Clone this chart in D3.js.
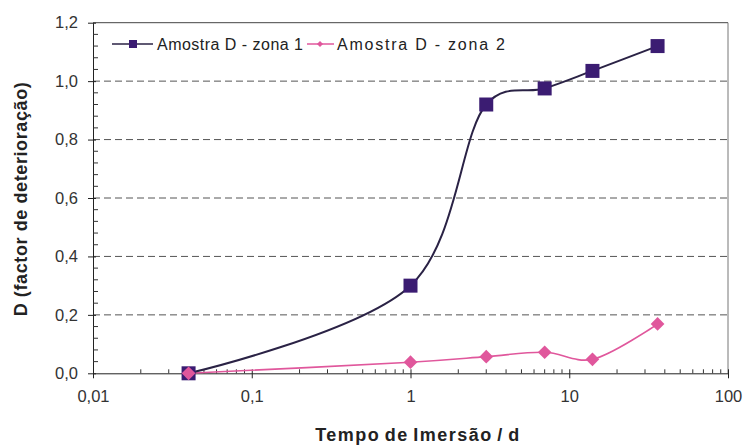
<!DOCTYPE html>
<html><head><meta charset="utf-8">
<script src="https://cdn.jsdelivr.net/npm/d3@7"></script>
<style>
html,body{margin:0;padding:0;background:#fff;}
text{font-family:"Liberation Sans",Arial,sans-serif;}
</style></head>
<body><svg id="c" width="746" height="447"></svg>
<script>
// ---- data ----
const times = [0.04, 1, 3, 7, 14, 36];
const zona1 = [0.00, 0.30, 0.92, 0.975, 1.035, 1.12];
const zona2 = [0.00, 0.038, 0.057, 0.072, 0.048, 0.169];
const seriesNames = ["Amostra D - zona 1", "Amostra D - zona 2"];
const xTicks = [0.01, 0.1, 1, 10, 100];
const xTickLabels = ["0,01", "0,1", "1", "10", "100"];
const yTicks = [0, 0.2, 0.4, 0.6, 0.8, 1.0, 1.2];
const yTickLabels = ["0,0", "0,2", "0,4", "0,6", "0,8", "1,0", "1,2"];

const svg = d3.select("#c");
const L = 93, R = 728, T = 22.7, B = 373.3;
const x = d3.scaleLog().domain([0.01, 100]).range([L, R]);
const y = d3.scaleLinear().domain([0, 1.2]).range([B, T]);

// gridlines
svg.append("g").selectAll("line").data(yTicks.filter(v => v > 0 && v < 1.2)).join("line")
  .attr("x1", L).attr("x2", R).attr("y1", d => y(d)).attr("y2", d => y(d))
  .attr("stroke", "#555").attr("stroke-width", 1).attr("stroke-dasharray", "7,4");

// frame top / right
svg.append("line").attr("x1", L).attr("x2", R).attr("y1", y(1.2)).attr("y2", y(1.2))
  .attr("stroke", "#444").attr("stroke-width", 1);
svg.append("line").attr("x1", R).attr("x2", R).attr("y1", y(1.2)).attr("y2", y(0))
  .attr("stroke", "#777").attr("stroke-width", 1);

// y axis
const yAxis = d3.axisLeft(y).tickValues(yTicks).tickFormat((d, i) => yTickLabels[i])
  .tickSizeInner(5).tickSizeOuter(0).tickPadding(10);
const gy = svg.append("g").attr("transform", `translate(${L},0)`).call(yAxis);
gy.select(".domain").attr("stroke", "#222");
gy.selectAll(".tick line").attr("stroke", "#222").attr("x2", 3).attr("x1", -5);
gy.selectAll(".tick text").attr("font-size", 16.5).attr("fill", "#333");
// y minor ticks
const yMinor = d3.range(0, 1.2001, 0.04).filter(v => Math.abs(v / 0.2 - Math.round(v / 0.2)) > 1e-6);
svg.append("g").selectAll("line").data(yMinor).join("line")
  .attr("x1", L).attr("x2", L + 5).attr("y1", d => y(d)).attr("y2", d => y(d))
  .attr("stroke", "#333").attr("stroke-width", 1);

// x axis
const xAxis = d3.axisBottom(x).tickValues(xTicks).tickFormat((d, i) => xTickLabels[i])
  .tickSizeInner(5).tickSizeOuter(0).tickPadding(12);
const gx = svg.append("g").attr("transform", `translate(0,${B})`).call(xAxis);
gx.select(".domain").attr("stroke", "#222");
gx.selectAll(".tick line").attr("stroke", "#222").attr("y1", -4).attr("y2", 5);
gx.selectAll(".tick text").attr("font-size", 16.5).attr("fill", "#333");
// x minor ticks
const xMinor = [];
[0.01, 0.1, 1, 10].forEach(b => { for (let k = 2; k <= 9; k++) xMinor.push(b * k); });
svg.append("g").selectAll("line").data(xMinor).join("line")
  .attr("x1", d => x(d)).attr("x2", d => x(d)).attr("y1", B).attr("y2", B - 4)
  .attr("stroke", "#333").attr("stroke-width", 1);

// axis titles
svg.append("text").attr("x", 418).attr("y", 441).attr("text-anchor", "middle")
  .attr("font-size", 18).attr("font-weight", "bold").attr("fill", "#222")
  .attr("letter-spacing", 1.5).attr("word-spacing", -2)
  .text("Tempo de Imersão / d");
svg.append("text").attr("transform", "translate(27,199) rotate(-90)").attr("text-anchor", "middle")
  .attr("font-size", 18).attr("font-weight", "bold").attr("fill", "#222")
  .attr("letter-spacing", 0.6)
  .text("D (factor de deterioração)");

// series
const c1 = "#3b1c72", c1line = "#2a2245", c2 = "#e0579c";
const line = d3.line().x(d => x(d[0])).y(d => y(d[1])).curve(d3.curveCatmullRom.alpha(0.25));
const d1 = times.map((t, i) => [t, zona1[i]]);
const d2 = times.map((t, i) => [t, zona2[i]]);

svg.append("path").datum(d2).attr("d", line).attr("fill", "none").attr("stroke", c2).attr("stroke-width", 1.6);
svg.append("path").datum(d1).attr("d", line).attr("fill", "none").attr("stroke", c1line).attr("stroke-width", 2);

svg.append("g").selectAll("rect").data(d1).join("rect")
  .attr("x", d => x(d[0]) - 7).attr("y", d => y(d[1]) - 7).attr("width", 14).attr("height", 14)
  .attr("fill", c1);
const diamond = d3.symbol().type(d3.symbolDiamond2).size(120);
svg.append("g").selectAll("path").data(d2).join("path")
  .attr("transform", d => `translate(${x(d[0])},${y(d[1])})`).attr("d", diamond)
  .attr("fill", c2);

// legend
const lg = svg.append("g");
lg.append("line").attr("x1", 112).attr("x2", 153).attr("y1", 44).attr("y2", 44).attr("stroke", c1line).attr("stroke-width", 1.5);
lg.append("rect").attr("x", 129).attr("y", 40).attr("width", 8).attr("height", 8).attr("fill", c1);
lg.append("text").attr("x", 157).attr("y", 50).attr("font-size", 16).attr("fill", "#222")
  .attr("textLength", 146).attr("lengthAdjust", "spacing").text(seriesNames[0]);
lg.append("line").attr("x1", 307).attr("x2", 334).attr("y1", 44).attr("y2", 44).attr("stroke", c2).attr("stroke-width", 1.5);
lg.append("path").attr("transform", "translate(320,44)").attr("d", d3.symbol().type(d3.symbolDiamond2).size(24)).attr("fill", c2);
lg.append("text").attr("x", 337).attr("y", 50).attr("font-size", 16).attr("fill", "#222")
  .attr("textLength", 168).attr("lengthAdjust", "spacing").text(seriesNames[1]);
</script></body></html>
